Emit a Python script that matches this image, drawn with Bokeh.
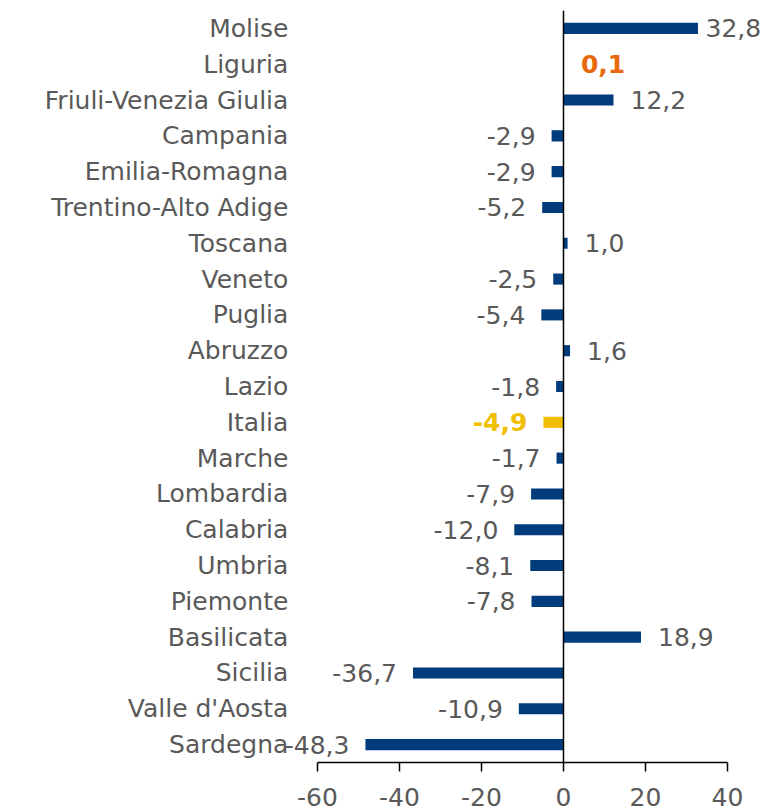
from bokeh.plotting import figure
from bokeh.models import Range1d, FixedTicker, Span, ColumnDataSource
from bokeh.core.properties import value
from bokeh.embed import file_html
from bokeh.resources import INLINE

regions = ["Molise", "Liguria", "Friuli-Venezia Giulia", "Campania", "Emilia-Romagna",
           "Trentino-Alto Adige", "Toscana", "Veneto", "Puglia", "Abruzzo", "Lazio",
           "Italia", "Marche", "Lombardia", "Calabria", "Umbria", "Piemonte",
           "Basilicata", "Sicilia", "Valle d'Aosta", "Sardegna"]
values = [32.8, 0.1, 12.2, -2.9, -2.9, -5.2, 1.0, -2.5, -5.4, 1.6, -1.8,
          -4.9, -1.7, -7.9, -12.0, -8.1, -7.8, 18.9, -36.7, -10.9, -48.3]
x_ticks = [-60, -40, -20, 0, 20, 40]
x_tick_labels = ["-60", "-40", "-20", "0", "20", "40"]

NAVY = "#003B7C"
YELLOW = "#F2BE00"
ORANGE = "#E8680C"
GRAY = "#595959"
FONT = "DejaVu Sans"
FS = "25px"

X_MIN, X_MAX = -137.3, 50.24
PX_PER_UNIT = 4.1

n = len(regions)
ys = [n - 1 - i for i in range(n)]
bar_colors = [YELLOW if r == "Italia" else NAVY for r in regions]
lab_colors = [ORANGE if r == "Liguria" else YELLOW if r == "Italia" else GRAY for r in regions]
lab_styles = ["bold" if r in ("Liguria", "Italia") else "normal" for r in regions]
lab_text = [f"{v:.1f}".replace(".", ",") for v in values]
lab_align = ["left" if v >= 0 else "right" for v in values]
# labels sit outside the bar end; keep positive labels inside the plot area
lab_off = [min(17, (X_MAX - v) * PX_PER_UNIT - 64) if v >= 0 else -16 for v in values]

src = ColumnDataSource(dict(y=ys, v=values, region=regions, bc=bar_colors, lc=lab_colors,
                            ls=lab_styles, lt=lab_text, la=lab_align, lo=lab_off,
                            zero=[0] * n, catx=[-67.1] * n))

p = figure(width=769, height=811, x_range=Range1d(X_MIN, X_MAX), y_range=Range1d(-0.5, n - 0.5),
           output_backend="svg", toolbar_location=None, y_axis_location=None,
           min_border_left=0, min_border_right=0, min_border_top=10, min_border_bottom=49)
p.outline_line_color = None
p.xgrid.grid_line_color = None
p.ygrid.grid_line_color = None
p.background_fill_color = "white"

p.hbar(y="y", left="zero", right="v", height=0.31, fill_color="bc", line_color=None, source=src)

p.add_layout(Span(location=0, dimension="height", line_color="black", line_width=1.5))

p.text(x="v", y="y", text="lt", x_offset="lo", text_align="la", text_baseline="middle",
       text_color="lc", text_font_style="ls", text_font=value(FONT), text_font_size=FS, source=src)

p.text(x="catx", y="y", text="region", text_align="right", text_baseline="middle",
       text_color=GRAY, text_font=value(FONT), text_font_size=FS, source=src)

ax = p.xaxis[0]
ax.ticker = FixedTicker(ticks=x_ticks)
ax.major_label_overrides = {t: s for t, s in zip(x_ticks, x_tick_labels)}
ax.bounds = (-60, 40)
ax.axis_line_color = "black"
ax.axis_line_width = 1.5
ax.major_tick_line_color = "black"
ax.major_tick_line_width = 1.5
ax.major_tick_out = 9
ax.major_tick_in = 0
ax.minor_tick_line_color = None
ax.major_label_text_font = FONT
ax.major_label_text_font_size = FS
ax.major_label_text_color = GRAY
ax.major_label_standoff = 16

open("out.html", "w").write(file_html(p, INLINE))
